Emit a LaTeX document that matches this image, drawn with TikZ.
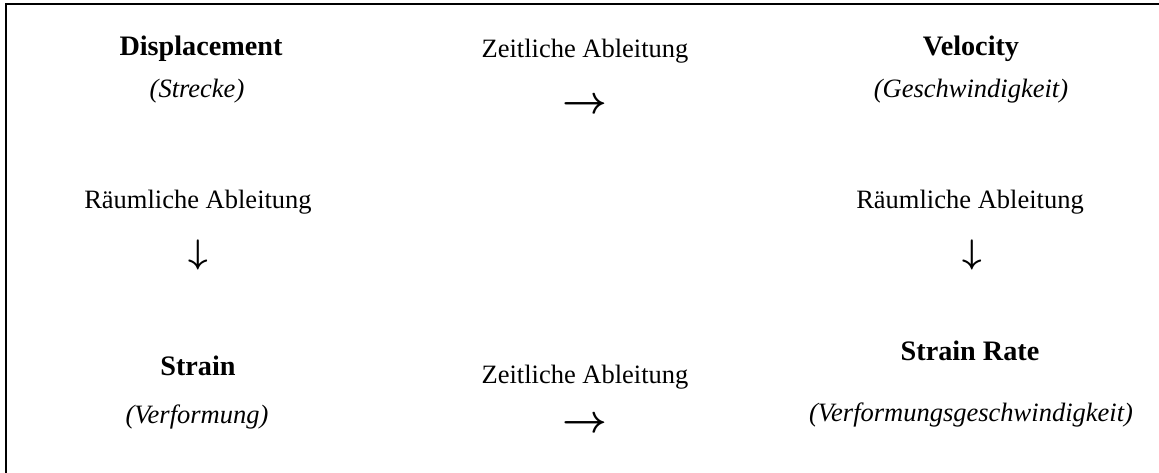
\documentclass[tikz,border=0pt]{standalone}
\usepackage{fix-cm}
\usepackage{fontspec}
\setmainfont{Liberation Serif}
\tikzset{
  head/.style={font=\fontsize{28.2}{32}\selectfont\bfseries, anchor=base, inner sep=0pt},
  gloss/.style={font=\fontsize{26.5}{30}\selectfont\itshape, anchor=base, inner sep=0pt},
  op/.style={font=\fontsize{26.5}{30}\selectfont, anchor=base, inner sep=0pt},
  rightsym/.style={font=\fontsize{39}{42}\selectfont\boldmath, anchor=base, inner sep=0pt},
  downsym/.style={font=\fontsize{34}{38}\selectfont\boldmath, anchor=center, inner sep=0pt},
  frameline/.style={line width=2pt, line cap=rect}
}
\begin{document}
\begin{tikzpicture}[x=1pt,y=-1pt]
  \useasboundingbox (0,0) rectangle (1159,472);
  % open frame: top and left edges
  \draw[frameline] (6,472) -- (6,4) -- (1159,4);

  % top row
  \node[head]  (disp)    at (201,55)  {Displacement};
  \node[gloss] (dispde)  at (197,97)  {(Strecke)};
  \node[op]    (dt1)     at (585,57)  {Zeitliche Ableitung};
  \node[rightsym] (dt1arr) at (585,113) {$\rightarrow$};
  \node[head]  (vel)     at (971,55)  {Velocity};
  \node[gloss] (velde)   at (971,97)  {(Geschwindigkeit)};

  % spatial derivatives
  \node[op]    (dxl)     at (198,208) {Räumliche Ableitung};
  \node[downsym] (dxlarr) at (198,255) {$\downarrow$};
  \node[op]    (dxr)     at (970,208) {Räumliche Ableitung};
  \node[downsym] (dxrarr) at (972,255) {$\downarrow$};

  % bottom row
  \node[head]  (strain)  at (198,375) {Strain};
  \node[gloss] (strainde) at (197,423) {(Verformung)};
  \node[op]    (dt2)     at (585,383) {Zeitliche Ableitung};
  \node[rightsym] (dt2arr) at (585,432) {$\rightarrow$};
  \node[head]  (rate)    at (970,360) {Strain Rate};
  \node[gloss] (ratede)  at (971,421) {(Verformungsgeschwindigkeit)};
\end{tikzpicture}
\end{document}
